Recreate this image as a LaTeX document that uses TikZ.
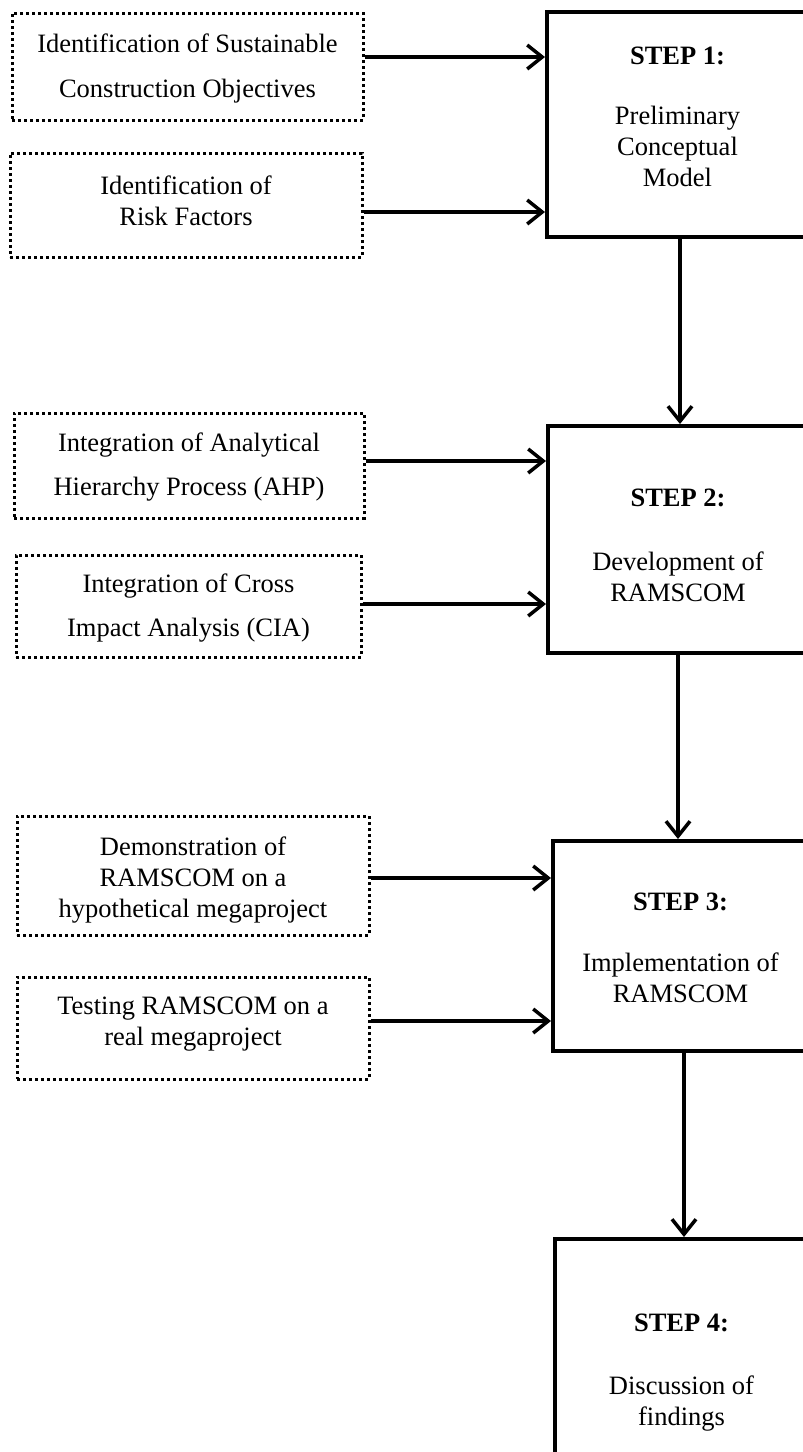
\documentclass[tikz,border=0pt]{standalone}
\usepackage{fontspec}
\setmainfont{Liberation Serif}
\usetikzlibrary{arrows.meta}
\begin{document}
\begin{tikzpicture}[x=1pt,y=-1pt,
  inbox/.style={draw,line width=3pt,dash pattern=on 3pt off 3pt,rectangle,inner sep=0pt},
  stepbox/.style={draw,line width=4pt,rectangle,inner sep=0pt},
  txt/.style={inner sep=0pt,align=center,font=\fontsize{26.5}{31}\selectfont},
  arr/.style={line width=3.5pt,-{Straight Barb[length=15pt,width=24pt]}}]
\useasboundingbox (0,0) rectangle (803,1452);
\clip (0,0) rectangle (803,1452);

% input activities (dotted frames)
\node[inbox,minimum width=351pt,minimum height=107pt] (a1) at (187.5,66.5) {};
\node[inbox,minimum width=352pt,minimum height=104pt] (a2) at (186,205) {};
\node[inbox,minimum width=350pt,minimum height=105pt] (b1) at (189,465.5) {};
\node[inbox,minimum width=345pt,minimum height=102pt] (b2) at (188.5,606) {};
\node[inbox,minimum width=352pt,minimum height=119pt] (c1) at (193,875.5) {};
\node[inbox,minimum width=352pt,minimum height=102pt] (c2) at (193,1028) {};

\node[txt] (a1t) at ([yshift=-1.5pt]a1.center)
  {Identification of Sustainable\\[14pt]Construction Objectives};
\node[txt] (a2t) at ([yshift=4pt]a2.center) {Identification of\\Risk Factors};
\node[txt] (b1t) at ([yshift=-2pt]b1.center)
  {Integration of Analytical\\[13pt]Hierarchy Process (AHP)};
\node[txt] (b2t) at ([yshift=-2pt]b2.center)
  {Integration of Cross\\[13pt]Impact Analysis (CIA)};
\node[txt] (c1t) at ([yshift=-4.5pt]c1.center)
  {Demonstration of\\RAMSCOM on a\\hypothetical megaproject};
\node[txt] (c2t) at ([yshift=3.5pt]c2.center) {Testing RAMSCOM on a\\real megaproject};

% main steps
\node[stepbox,minimum width=261pt,minimum height=225pt] (s1) at (677.5,124.5) {};
\node[stepbox,minimum width=260pt,minimum height=227pt] (s2) at (678,539.5) {};
\node[stepbox,minimum width=255pt,minimum height=210pt] (s3) at (680.5,946) {};
\node[stepbox,minimum width=253pt,minimum height=260pt] (s4) at (681.5,1369) {};

\node[txt] (s1t) at ([yshift=7.5pt]s1.center)
  {\textbf{STEP 1:}\\[29pt]Preliminary\\Conceptual\\Model};
\node[txt] (s2t) at ([yshift=-5.5pt]s2.center)
  {\textbf{STEP 2:}\\[33pt]Development of\\RAMSCOM};
\node[txt] (s3t) at ([yshift=-1.5pt]s3.center)
  {\textbf{STEP 3:}\\[30pt]Implementation of\\RAMSCOM};
\node[txt] (s4t) at ([yshift=-4pt]s4.center)
  {\textbf{STEP 4:}\\[32pt]Discussion of\\findings};

% inputs into steps
\draw[arr] ([yshift=9.5pt]a1.east) -- ([yshift=9.5pt]a1.east -| s1.west);
\draw[arr] ([yshift=-7pt]a2.east) -- ([yshift=-7pt]a2.east -| s1.west);
\draw[arr] ([yshift=4.5pt]b1.east) -- ([yshift=4.5pt]b1.east -| s2.west);
\draw[arr] ([yshift=2pt]b2.east) -- ([yshift=2pt]b2.east -| s2.west);
\draw[arr] ([yshift=-2.5pt]c1.east) -- ([yshift=-2.5pt]c1.east -| s3.west);
\draw[arr] ([yshift=7pt]c2.east) -- ([yshift=7pt]c2.east -| s3.west);

% flow between steps
\draw[arr] (s1.south -| 680,0) -- (s2.north -| 680,0);
\draw[arr] (s2.south -| 678,0) -- (s3.north -| 678,0);
\draw[arr] (s3.south -| 684,0) -- (s4.north -| 684,0);
\end{tikzpicture}
\end{document}
